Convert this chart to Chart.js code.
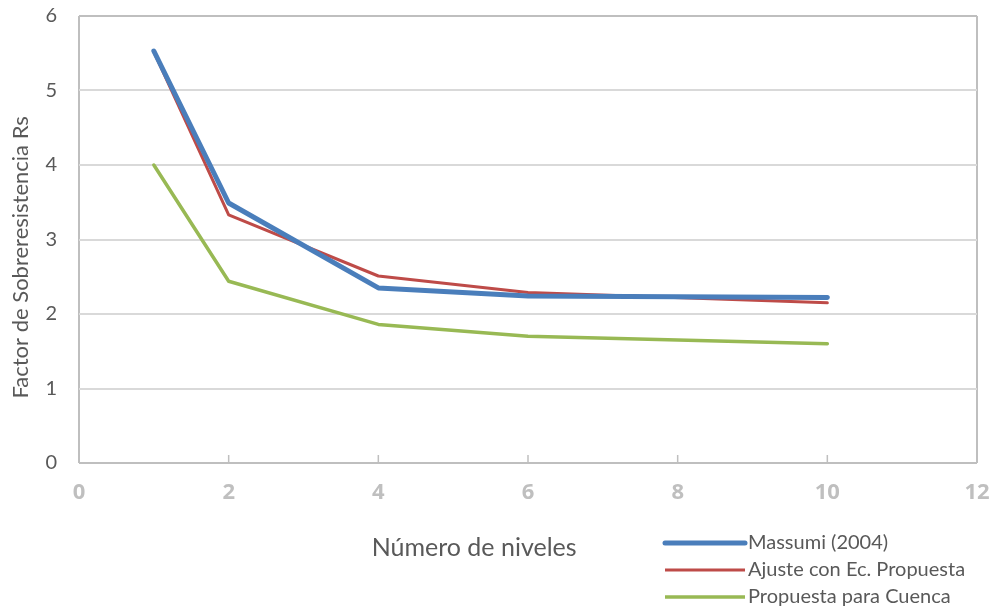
<!DOCTYPE html>
<html>
<head>
<meta charset="utf-8">
<script src="https://cdn.jsdelivr.net/npm/chart.js@4/dist/chart.umd.min.js"></script>
<style>
html,body{margin:0;padding:0;background:#fff;}
#wrap{width:993px;height:611px;}
</style>
</head>
<body>
<div id="wrap"><canvas id="c" width="993" height="611"></canvas></div>
<script>
const niveles = [1, 2, 4, 6, 10];
const massumi = [5.53, 3.49, 2.35, 2.24, 2.22];
const ajuste = [5.52, 3.33, 2.51, 2.29, 2.15];
const cuenca = [4.00, 2.44, 1.86, 1.70, 1.60];
const seriesNames = ["Massumi (2004)", "Ajuste con Ec. Propuesta", "Propuesta para Cuenca"];
const xTitle = "Número de niveles";
const yTitle = "Factor de Sobreresistencia Rs";

const FONT = "Lato, 'Open Sans', sans-serif";

function pts(xs, ys){ return xs.map((x,i)=>({x:x, y:ys[i]})); }

const decorPlugin = {
  id: 'decor',
  afterDraw(chart){
    const ctx = chart.ctx;
    const ca = chart.chartArea;
    const xs = chart.scales.x;
    ctx.save();
    // small inner tick marks on the x axis
    ctx.strokeStyle = '#bfbfbf';
    ctx.lineWidth = 1.5;
    xs.ticks.forEach(t => {
      if (t.value === xs.min || t.value === xs.max) return;
      const px = xs.getPixelForValue(t.value);
      ctx.beginPath();
      ctx.moveTo(px, ca.bottom);
      ctx.lineTo(px, ca.bottom - 8);
      ctx.stroke();
    });
    // axis titles
    ctx.fillStyle = '#595959';
    ctx.textAlign = 'center';
    ctx.textBaseline = 'middle';
    ctx.font = "25px " + FONT;
    ctx.fillText(xTitle, ca.left + (ca.right - ca.left) * 0.44, ca.bottom + 85);
    ctx.save();
    ctx.translate(ca.left - 58, ca.top + (ca.bottom - ca.top) * 0.54);
    ctx.rotate(-Math.PI / 2);
    ctx.font = "22px " + FONT;
    ctx.fillText(yTitle, 0, 0);
    ctx.restore();
    // legend
    const x0 = ca.right - 312;
    const rows = [chart.height - 68, chart.height - 41, chart.height - 14];
    chart.data.datasets.forEach((ds, i) => {
      const y = rows[i];
      ctx.strokeStyle = ds.borderColor;
      ctx.lineWidth = ds.borderWidth;
      ctx.lineCap = i === 0 ? 'round' : 'butt';
      ctx.beginPath();
      ctx.moveTo(x0, y);
      ctx.lineTo(x0 + 80, y);
      ctx.stroke();
      ctx.fillStyle = '#595959';
      ctx.font = "20px " + FONT;
      ctx.textBaseline = 'middle';
      ctx.textAlign = 'left';
      ctx.fillText(ds.label, x0 + 83, y);
    });
    ctx.restore();
  }
};

new Chart(document.getElementById('c'), {
  type: 'line',
  data: {
    datasets: [
      {label: seriesNames[0], data: pts(niveles, massumi), borderColor: '#4a7ebb', borderWidth: 5, pointRadius: 0, tension: 0, borderCapStyle: 'round', borderJoinStyle: 'round'},
      {label: seriesNames[1], data: pts(niveles, ajuste), borderColor: '#be4b48', borderWidth: 3, pointRadius: 0, tension: 0, borderCapStyle: 'round', borderJoinStyle: 'round'},
      {label: seriesNames[2], data: pts(niveles, cuenca), borderColor: '#98b954', borderWidth: 3.5, pointRadius: 0, tension: 0, borderCapStyle: 'round', borderJoinStyle: 'round'}
    ]
  },
  options: {
    responsive: false,
    animation: false,
    layout: {padding: {left: 7, right: 16, top: 16, bottom: 48}},
    plugins: {legend: {display: false}, tooltip: {enabled: false}},
    scales: {
      x: {
        type: 'linear', min: 0, max: 12,
        afterFit: (s) => { s.paddingLeft = 0; s.paddingRight = 0; s.height = 100; },
        ticks: {stepSize: 2, maxRotation: 0, color: '#bfbfbf', font: {family: "'Open Sans', Lato, sans-serif", size: 22, weight: 'bold'}, padding: 17},
        grid: {
          color: (c) => (c.tick && (c.tick.value === 0 || c.tick.value === 12)) ? '#bfbfbf' : 'rgba(0,0,0,0)',
          lineWidth: 2, tickLength: 0, drawTicks: false
        },
        border: {display: false},
        title: {display: false}
      },
      y: {
        min: 0, max: 6,
        afterFit: (s) => { s.paddingTop = 0; s.paddingBottom = 0; s.width = 72; },
        ticks: {stepSize: 1, color: '#595959', font: {family: FONT, size: 20}, padding: 22},
        grid: {
          color: (c) => (c.tick && (c.tick.value === 0 || c.tick.value === 6)) ? '#bfbfbf' : '#d9d9d9',
          lineWidth: 2, drawTicks: false
        },
        border: {display: false},
        title: {display: false}
      }
    }
  },
  plugins: [decorPlugin]
});
</script>
</body>
</html>
